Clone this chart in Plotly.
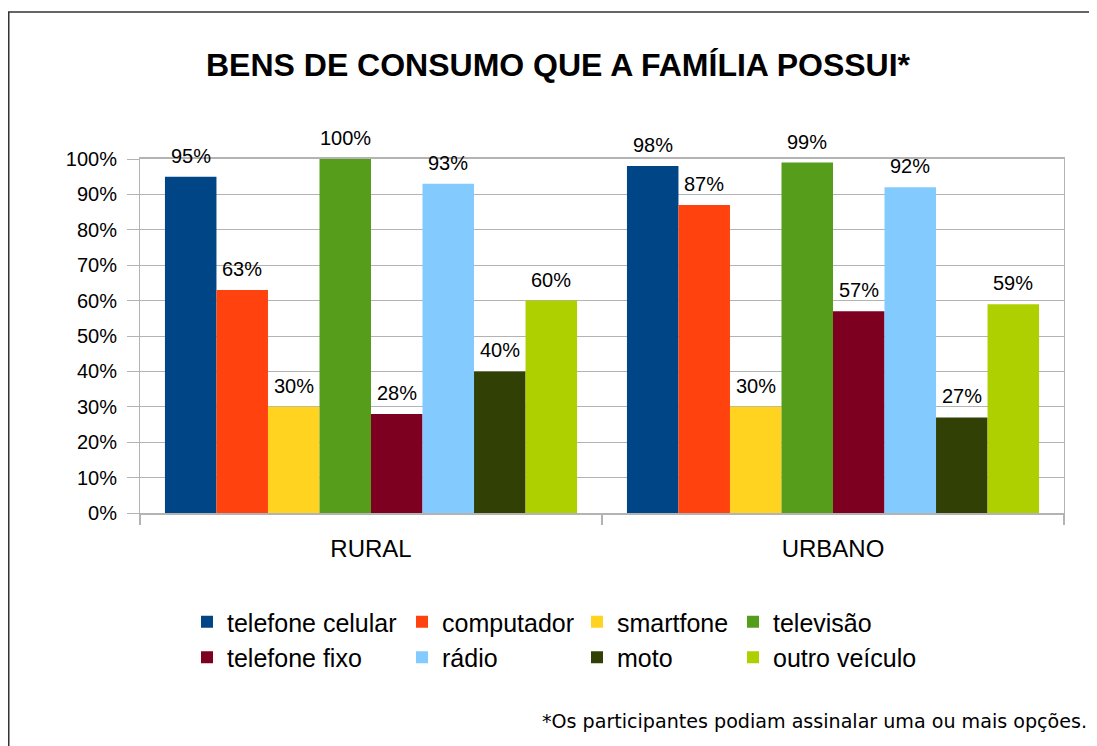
import plotly.graph_objects as go

categories = ["RURAL", "URBANO"]
series_names = ["telefone celular", "computador", "smartfone", "televisão",
                "telefone fixo", "rádio", "moto", "outro veículo"]
rural = [95, 63, 30, 100, 28, 93, 40, 60]
urbano = [98, 87, 30, 99, 57, 92, 27, 59]
colors = ["#004586", "#ff420e", "#ffd320", "#579d1c",
          "#7e0021", "#83caff", "#314004", "#aecf00"]
y_ticks = list(range(0, 101, 10))

# the page body adds an 8px offset; figure pixel coords = screen - 8
W, H = 1089, 738
L, R, T, B = 132, 1056, 151, 505
FONT = "Liberation Sans, Arial, sans-serif"
BARGAP = 0.108


def px_x(px):
    return (px - L) / (R - L)


def px_y(py):
    return (B - py) / (B - T)


fig = go.Figure()
legend_ids = ["legend", "legend2", "legend3", "legend4"]
for i, name in enumerate(series_names):
    fig.add_trace(go.Bar(
        x=categories, y=[rural[i], urbano[i]], name=name,
        marker=dict(color=colors[i], line=dict(width=0)),
        legend=legend_ids[i % 4], legendgroup=name, showlegend=True,
    ))

# value labels above each bar (through the axis scales)
cat_px = (R - L) / len(categories)
bar_px = cat_px * (1 - BARGAP) / len(series_names)
for i, name in enumerate(series_names):
    for c, vals in zip(categories, (rural, urbano)):
        v = vals[i]
        fig.add_annotation(
            x=c, y=v, xref="x", yref="y", text=f"{v}%", showarrow=False,
            xanchor="center", yanchor="bottom",
            xshift=(i - (len(series_names) - 1) / 2) * bar_px, yshift=8,
            font=dict(family=FONT, size=20, color="#000000"),
        )

legend_cols = [179, 394, 569, 725]
legend_top = 591
legends = {}
for k, lid in enumerate(legend_ids):
    legends[lid] = dict(
        x=px_x(legend_cols[k]), xref="paper", xanchor="left",
        y=px_y(legend_top), yref="paper", yanchor="top",
        orientation="v", font=dict(family=FONT, size=25, color="#000000"),
        bgcolor="rgba(0,0,0,0)", tracegroupgap=0,
    )

fig.update_layout(
    width=W, height=H,
    margin=dict(l=L, r=W - R, t=T, b=H - B, pad=0, autoexpand=False),
    paper_bgcolor="white", plot_bgcolor="white",
    barmode="group", bargap=BARGAP, bargroupgap=0,
    font=dict(family=FONT, color="#000000"),
    title=dict(text="<b>BENS DE CONSUMO QUE A FAMÍLIA POSSUI*</b>",
               x=550 / W, xref="container", xanchor="center",
               y=1 - 57 / H, yref="container", yanchor="middle",
               font=dict(family=FONT, size=32, color="#000000")),
    **legends,
)

fig.update_yaxes(
    range=[0, 100], tickvals=y_ticks, ticktext=[f"{v}%" for v in y_ticks],
    showgrid=True, gridcolor="#b3b3b3", gridwidth=1,
    showline=True, linecolor="#b3b3b3", linewidth=1, mirror=True,
    ticks="outside", ticklen=12, tickcolor="#b3b3b3",
    tickfont=dict(family=FONT, size=20, color="#000000"),
    ticklabelstandoff=6, zeroline=False, fixedrange=True, automargin=False,
)
fig.update_xaxes(
    type="category", categoryorder="array", categoryarray=categories,
    tickson="boundaries",
    showline=True, linecolor="#b3b3b3", linewidth=1.5, mirror=True,
    ticks="outside", ticklen=10, tickcolor="#b3b3b3", tickwidth=1.5,
    tickfont=dict(family=FONT, size=24, color="#000000"),
    ticklabelstandoff=13, showgrid=False, fixedrange=True, automargin=False,
)

fig.add_annotation(
    text="*Os participantes podiam assinalar uma ou mais opções.",
    xref="paper", yref="paper", x=px_x(1081), y=px_y(713),
    xanchor="right", yanchor="middle", showarrow=False,
    font=dict(family="DejaVu Sans, sans-serif", size=19.1, color="#000000"),
)

fig.add_shape(type="rect", xref="paper", yref="paper",
              x0=px_x(0.75), x1=px_x(W + 50), y0=px_y(H + 50), y1=px_y(4),
              line=dict(color="#333333", width=1.5), fillcolor="rgba(0,0,0,0)",
              layer="below")

fig.write_html("out.html")
